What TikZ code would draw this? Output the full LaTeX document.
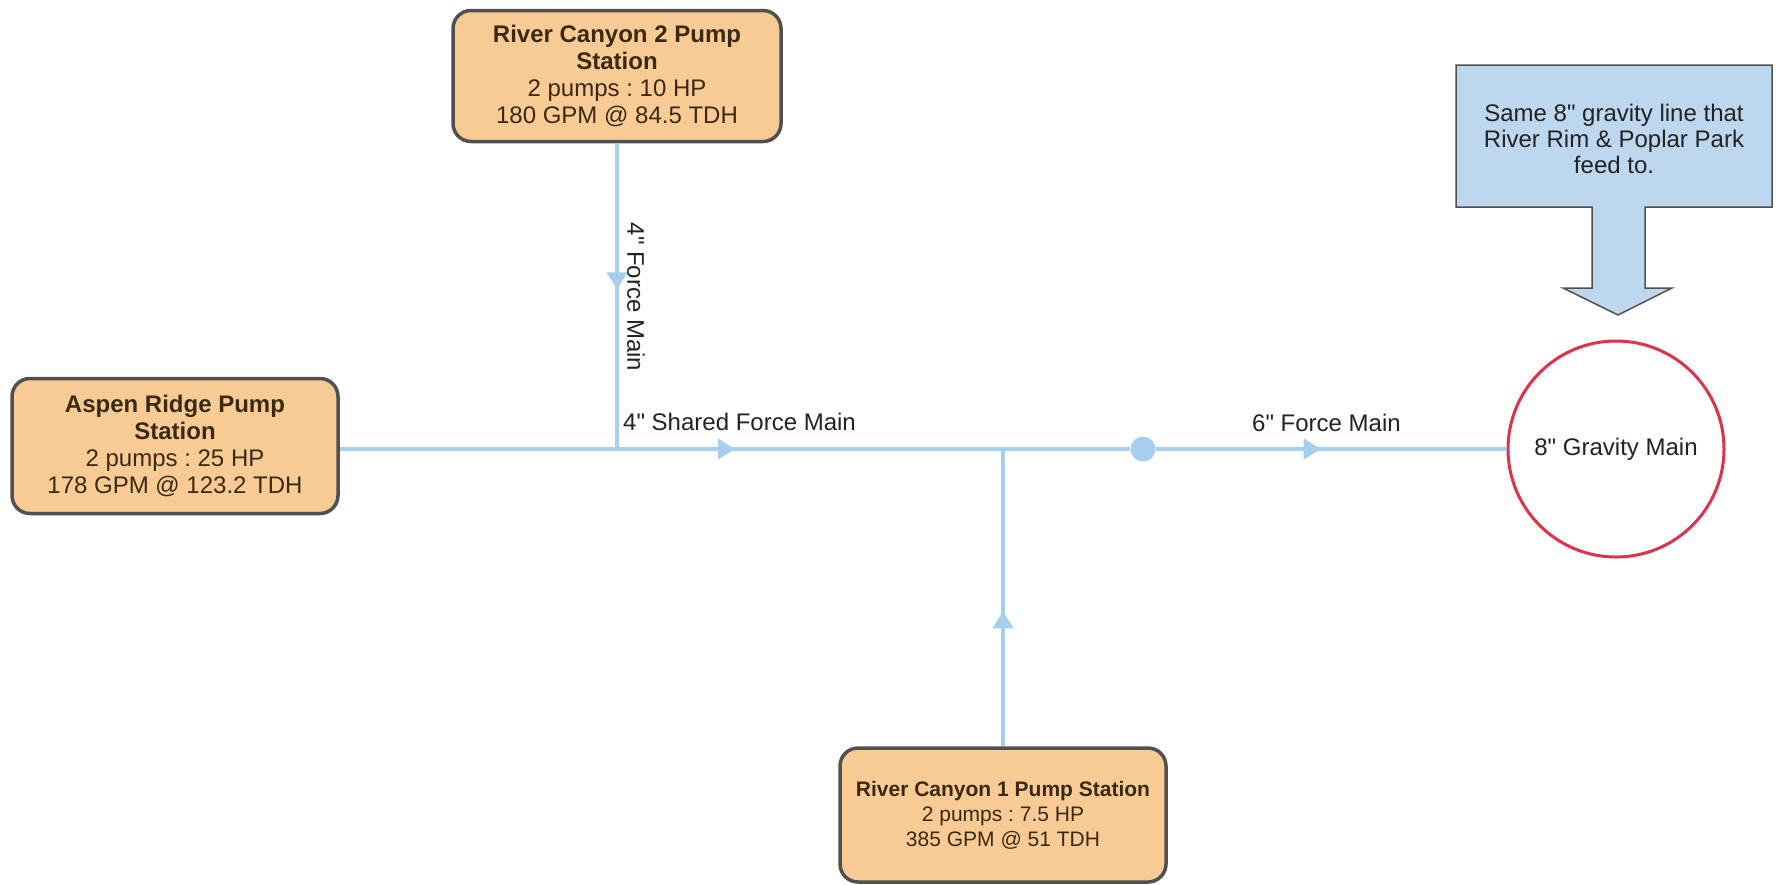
\documentclass[tikz,border=0pt]{standalone}
\usepackage{fontspec}
\setmainfont{Liberation Sans}[Ligatures=TeXOff]
\usetikzlibrary{arrows.meta,decorations.markings}
\newcommand{\inchmark}{\char34\relax}
\frenchspacing
\definecolor{pipecol}{HTML}{A6CFEF}
\definecolor{boxfill}{HTML}{F8CB94}
\definecolor{boxline}{HTML}{505050}
\definecolor{boxtext}{HTML}{3A2A14}
\definecolor{calloutfill}{HTML}{BDD8EE}
\definecolor{gravred}{HTML}{E0304A}
\definecolor{lbltext}{HTML}{222222}
\tikzset{
  station/.style={draw=boxline, line width=3.5pt, fill=boxfill, rounded corners=18pt,
    align=center, text=boxtext, inner sep=0pt},
  pipe/.style={draw=pipecol, line width=4.5pt},
  flowat/.style={postaction={decorate}, decoration={markings,
    mark=at position #1 with {\arrow[pipecol]{Triangle[length=17pt,width=20pt]}}}},
  lbl/.style={text=lbltext, font=\fontsize{24}{28}\selectfont, inner sep=0pt},
  callout/.style={draw=boxline, line width=1.5pt, fill=calloutfill},
}
\begin{document}
\frenchspacing
\begin{tikzpicture}[x=1pt,y=-1pt]
\useasboundingbox (0,0) rectangle (1777,884);
% stations
\node[station, minimum width=328pt, minimum height=131pt,
  font=\fontsize{24}{27}\selectfont] (rc2) at (617,76)
  {\textbf{River Canyon 2 Pump}\\\textbf{Station}\\2 pumps : 10 HP\\180 GPM @ 84.5 TDH};
\node[station, minimum width=326pt, minimum height=135pt,
  font=\fontsize{24}{27}\selectfont] (aspen) at (175,446)
  {\textbf{Aspen Ridge Pump}\\\textbf{Station}\\2 pumps : 25 HP\\178 GPM @ 123.2 TDH};
\node[station, minimum width=326pt, minimum height=134pt,
  font=\fontsize{21}{25}\selectfont] (rc1) at (1003,815)
  {\textbf{River Canyon 1 Pump Station}\\2 pumps : 7.5 HP\\385 GPM @ 51 TDH};
% gravity main
\node[circle, draw=gravred, line width=3pt, fill=white, minimum size=216pt, inner sep=0pt,
  text=lbltext, font=\fontsize{24}{28}\selectfont] (grav) at (1616,449) {8\inchmark{} Gravity Main};
% junctions
\coordinate (j1) at (rc2.south |- 0,449);
\coordinate (j2) at (rc1.north |- 0,449);
\node[circle, fill=pipecol, minimum size=25pt, inner sep=0pt] (dot) at (1143,449) {};
% pipes
\draw[pipe, flowat=146pt] (rc2.south) -- (j1);
\draw[pipe] (aspen.east |- j1) -- (j1);
\draw[pipe, flowat=118pt] (j1) -- (j2);
\draw[pipe] (j2) -- (dot);
\draw[pipe, flowat=165pt] (dot) -- (grav.west);
\draw[pipe, flowat=135pt] (rc1.north) -- (j2);
% labels
\node[lbl, rotate=-90] (lvert) at (636,297) {4\inchmark{} Force Main};
\node[lbl, anchor=west] (lshared) at (623,422) {4\inchmark{} Shared Force Main};
\node[lbl, anchor=west] (lsix) at (1252,423) {6\inchmark{} Force Main};
% callout
\draw[callout] (1456,65) -- (1772,65) -- (1772,207) -- (1645,207) -- (1645,288)
  -- (1672,288) -- (1618,315) -- (1563,288) -- (1592,288) -- (1592,207)
  -- (1456,207) -- cycle;
\node[lbl, align=center, font=\fontsize{24}{26}\selectfont] (note) at (1614,139)
  {Same 8\inchmark{} gravity line that\\River Rim \& Poplar Park\\feed to.};
\end{tikzpicture}
\end{document}
